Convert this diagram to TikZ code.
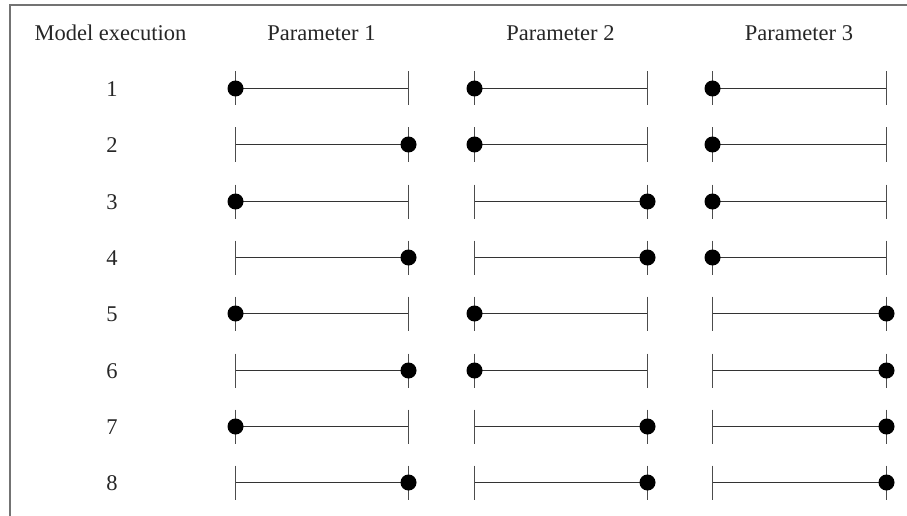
\documentclass[tikz,border=0pt]{standalone}
\usepackage{fontspec}
\setmainfont{Liberation Serif}
\begin{document}
\begin{tikzpicture}[x=1pt,y=-1pt,
  lbl/.style={font=\fontsize{22.5}{26}\selectfont, text=black!85, inner sep=0pt, anchor=base},
  bar/.style={line width=1.1pt, draw=black!80},
  tickmark/.style={line width=1.2pt, draw=black!70},
  dot/.style={circle, fill=black, inner sep=0pt, minimum size=16pt},
  frame/.style={line width=2pt, draw=black!55}]
\useasboundingbox (0,0) rectangle (907,516);
% open frame: left and top edges
\coordinate (fb) at (9.5,516);
\coordinate (fc) at (9.5,5.5);
\coordinate (fr) at (907,5.5);
\draw[frame] (fb) -- (fc) -- (fr);
% column headings
\node[lbl] (hmodel) at (110.5,41) {Model execution};
\node[lbl] (hp1) at (321.5,41) {Parameter 1};
\node[lbl] (hp2) at (560.5,41) {Parameter 2};
\node[lbl] (hp3) at (799,41) {Parameter 3};
% one row per model execution; the dot marks the low or high end of each range
\foreach \r in {1,...,8} {
  \pgfmathsetmacro\yy{round(88+(\r-1)*56.3)+0.5}
  \node[lbl] (n\r) at (112,\yy+8) {\r};
  \foreach \c/\xl/\xr in {1/235.5/408.5, 2/474.5/647.5, 3/712.5/886.5} {
    \coordinate (l\r\c) at (\xl,\yy);
    \coordinate (r\r\c) at (\xr,\yy);
    \draw[bar] (l\r\c) -- (r\r\c);
    \draw[tickmark] ([yshift=17pt]l\r\c) -- ([yshift=-17pt]l\r\c);
    \draw[tickmark] ([yshift=17pt]r\r\c) -- ([yshift=-17pt]r\r\c);
    \pgfmathtruncatemacro\bit{mod(floor((\r-1)/2^(\c-1)),2)}
    \ifnum\bit=1
      \node[dot] (d\r\c) at (r\r\c) {};
    \else
      \node[dot] (d\r\c) at (l\r\c) {};
    \fi
  }
}
\end{tikzpicture}
\end{document}
